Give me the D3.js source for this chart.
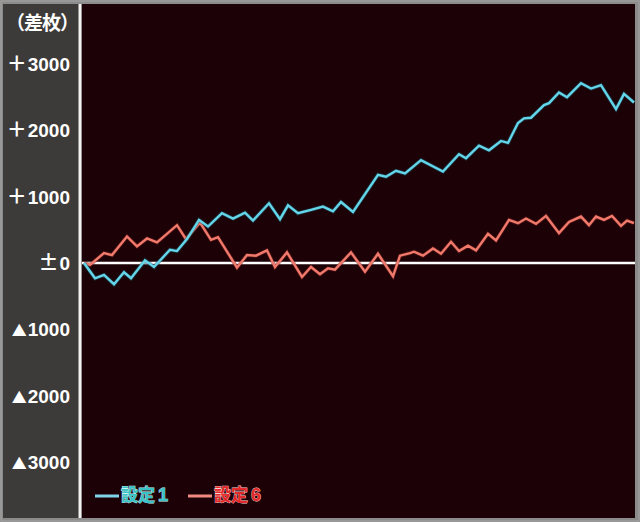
<!DOCTYPE html>
<html><head><meta charset="utf-8">
<script src="https://cdn.jsdelivr.net/npm/d3@7"></script>
<style>html,body{margin:0;padding:0;background:#8a8a8a;}svg{display:block;}</style>
</head><body>
<svg id="c" width="640" height="522"></svg>
<script>
// ---- data ----
const yTicks = [3000, 2000, 1000, 0, -1000, -2000, -3000];
const yTitle = "（差枚）";
const seriesNames = ["設定1", "設定6"];
const games1 = [0,110,200,300,400,470,610,700,860,930,1030,1150,1240,1380,1490,1610,1690,1850,1960,2040,2140,2270,2390,2490,2570,2690,2940,3020,3120,3210,3370,3590,3750,3820,3950,4050,4170,4240,4340,4400,4470,4600,4650,4750,4830,4970,5070,5170,5320,5400,5500];
const diff1 = [0,-230,-180,-320,-140,-230,40,-60,200,180,360,650,550,750,670,760,640,900,660,870,750,800,850,780,920,770,1330,1300,1390,1350,1550,1380,1640,1580,1770,1700,1840,1810,2110,2180,2190,2380,2410,2570,2500,2710,2630,2680,2320,2550,2420];
const games6 = [0,60,200,280,430,530,630,730,930,1020,1160,1270,1340,1530,1630,1720,1830,1910,2030,2180,2270,2360,2440,2510,2670,2810,2940,3090,3160,3260,3300,3390,3490,3570,3670,3750,3840,3920,4040,4120,4250,4340,4420,4520,4620,4750,4850,4970,5050,5120,5200,5280,5370,5430,5500];
const diff6 = [0,-30,150,120,400,250,370,310,570,360,610,350,390,-70,120,110,190,-60,160,-210,-60,-170,-80,-100,160,-130,140,-200,110,150,170,110,220,140,320,180,260,190,440,340,650,600,670,590,710,450,620,700,570,700,650,710,560,640,600];
const xMax = 5500;

// ---- drawing ----
const svg = d3.select("#c");
const W = 640, H = 522;
const plot = {l: 82, r: 635, t: 4, b: 518};

svg.append("rect").attr("x",0).attr("y",0).attr("width",W).attr("height",H).attr("fill","#8b8b8b");
svg.append("rect").attr("x",1).attr("y",1).attr("width",W-2).attr("height",H-2).attr("fill","none").attr("stroke","#a5a5a5").attr("stroke-width",1);
svg.append("rect").attr("x",3).attr("y",4).attr("width",plot.l-3).attr("height",plot.b-4).attr("fill","#3d3b39");
svg.append("rect").attr("x",plot.l).attr("y",plot.t).attr("width",plot.r-plot.l).attr("height",plot.b-plot.t).attr("fill","#1c0207");
svg.append("rect").attr("x",78.5).attr("y",4).attr("width",3).attr("height",plot.b-4).attr("fill","#f2f2f2");

const x = d3.scaleLinear().domain([0, xMax]).range([84, 634]);
const y = d3.scaleLinear().domain([-3000, 3000]).range([462, 64]);

// y-axis labels
const sym = v => v > 0 ? "＋" : (v === 0 ? "±" : "▲");
const num = v => String(Math.abs(v));
const ax = svg.append("g").attr("transform", "translate(70,0)")
  .call(d3.axisLeft(y).tickValues(yTicks).tickFormat(v => sym(v) + num(v)).tickSize(0).tickPadding(0));
ax.select(".domain").remove();
ax.selectAll("text").attr("fill","#ffffff")
  .attr("font-family","'Liberation Sans','Noto Sans CJK JP',sans-serif")
  .attr("font-weight","bold").attr("font-size",19).attr("dy","0.35em")
  .each(function(v) {
    const t = d3.select(this).text("");
    t.append("tspan").attr("font-family","'Noto Sans CJK JP',sans-serif")
      .attr("font-size", v === 0 ? 20 : (v > 0 ? 20 : 15))
      .attr("dx", v > 0 ? 0 : 0)
      .text(sym(v));
    t.append("tspan").attr("dx", v > 0 ? 1 : 1).text(num(v));
  });

svg.append("text").attr("x",42).attr("y",25).attr("text-anchor","middle")
  .attr("dominant-baseline","middle")
  .attr("font-family","'Noto Sans CJK JP',sans-serif").attr("font-weight","bold")
  .attr("font-size",19).attr("fill","#ffffff").attr("letter-spacing",-1).text(yTitle);

// zero line
svg.append("line").attr("x1",plot.l).attr("x2",plot.r).attr("y1",y(0)).attr("y2",y(0))
  .attr("stroke","#ffffff").attr("stroke-width",2.5);

const line = d3.line().x(d => x(d[0])).y(d => y(d[1]));
const s1 = games1.map((g,i) => [g, diff1[i]]);
const s6 = games6.map((g,i) => [g, diff6[i]]);

const g = svg.append("g");
[[s6,"#f07a6c","#7a1e1e"],[s1,"#64d6ea","#1d5a6a"]].forEach(([d,c,o]) => {
  g.append("path").datum(d).attr("d", line).attr("fill","none")
    .attr("stroke",o).attr("stroke-width",4).attr("stroke-opacity",0.5).attr("stroke-linejoin","miter");
  g.append("path").datum(d).attr("d", line).attr("fill","none")
    .attr("stroke",c).attr("stroke-width",2.4).attr("stroke-linejoin","miter");
});

// legend
const leg = [
  {name: seriesNames[0], lc: "#7fd6ea", tc: "#39c3c6", sc: "#c8f4f4", x: 95},
  {name: seriesNames[1], lc: "#f08a80", tc: "#e4282a", sc: "#ffd0d0", x: 188}
];
leg.forEach(d => {
  svg.append("line").attr("x1", d.x).attr("x2", d.x + 24).attr("y1", 496).attr("y2", 496)
    .attr("stroke", d.lc).attr("stroke-width", 3);
  const t = svg.append("text").attr("x", d.x + 26).attr("y", 496).attr("dominant-baseline","middle")
    .attr("font-family","'Noto Sans CJK JP',sans-serif").attr("font-weight","bold")
    .attr("font-size",17).attr("fill", d.tc).attr("stroke", d.sc).attr("stroke-width",0.8)
    .attr("paint-order","stroke");
  t.append("tspan").text(d.name.slice(0, 2));
  t.append("tspan").attr("dx", 3).attr("font-family","'Liberation Sans',sans-serif").attr("font-size",18).text(d.name.slice(2));
});
</script>
</body></html>
